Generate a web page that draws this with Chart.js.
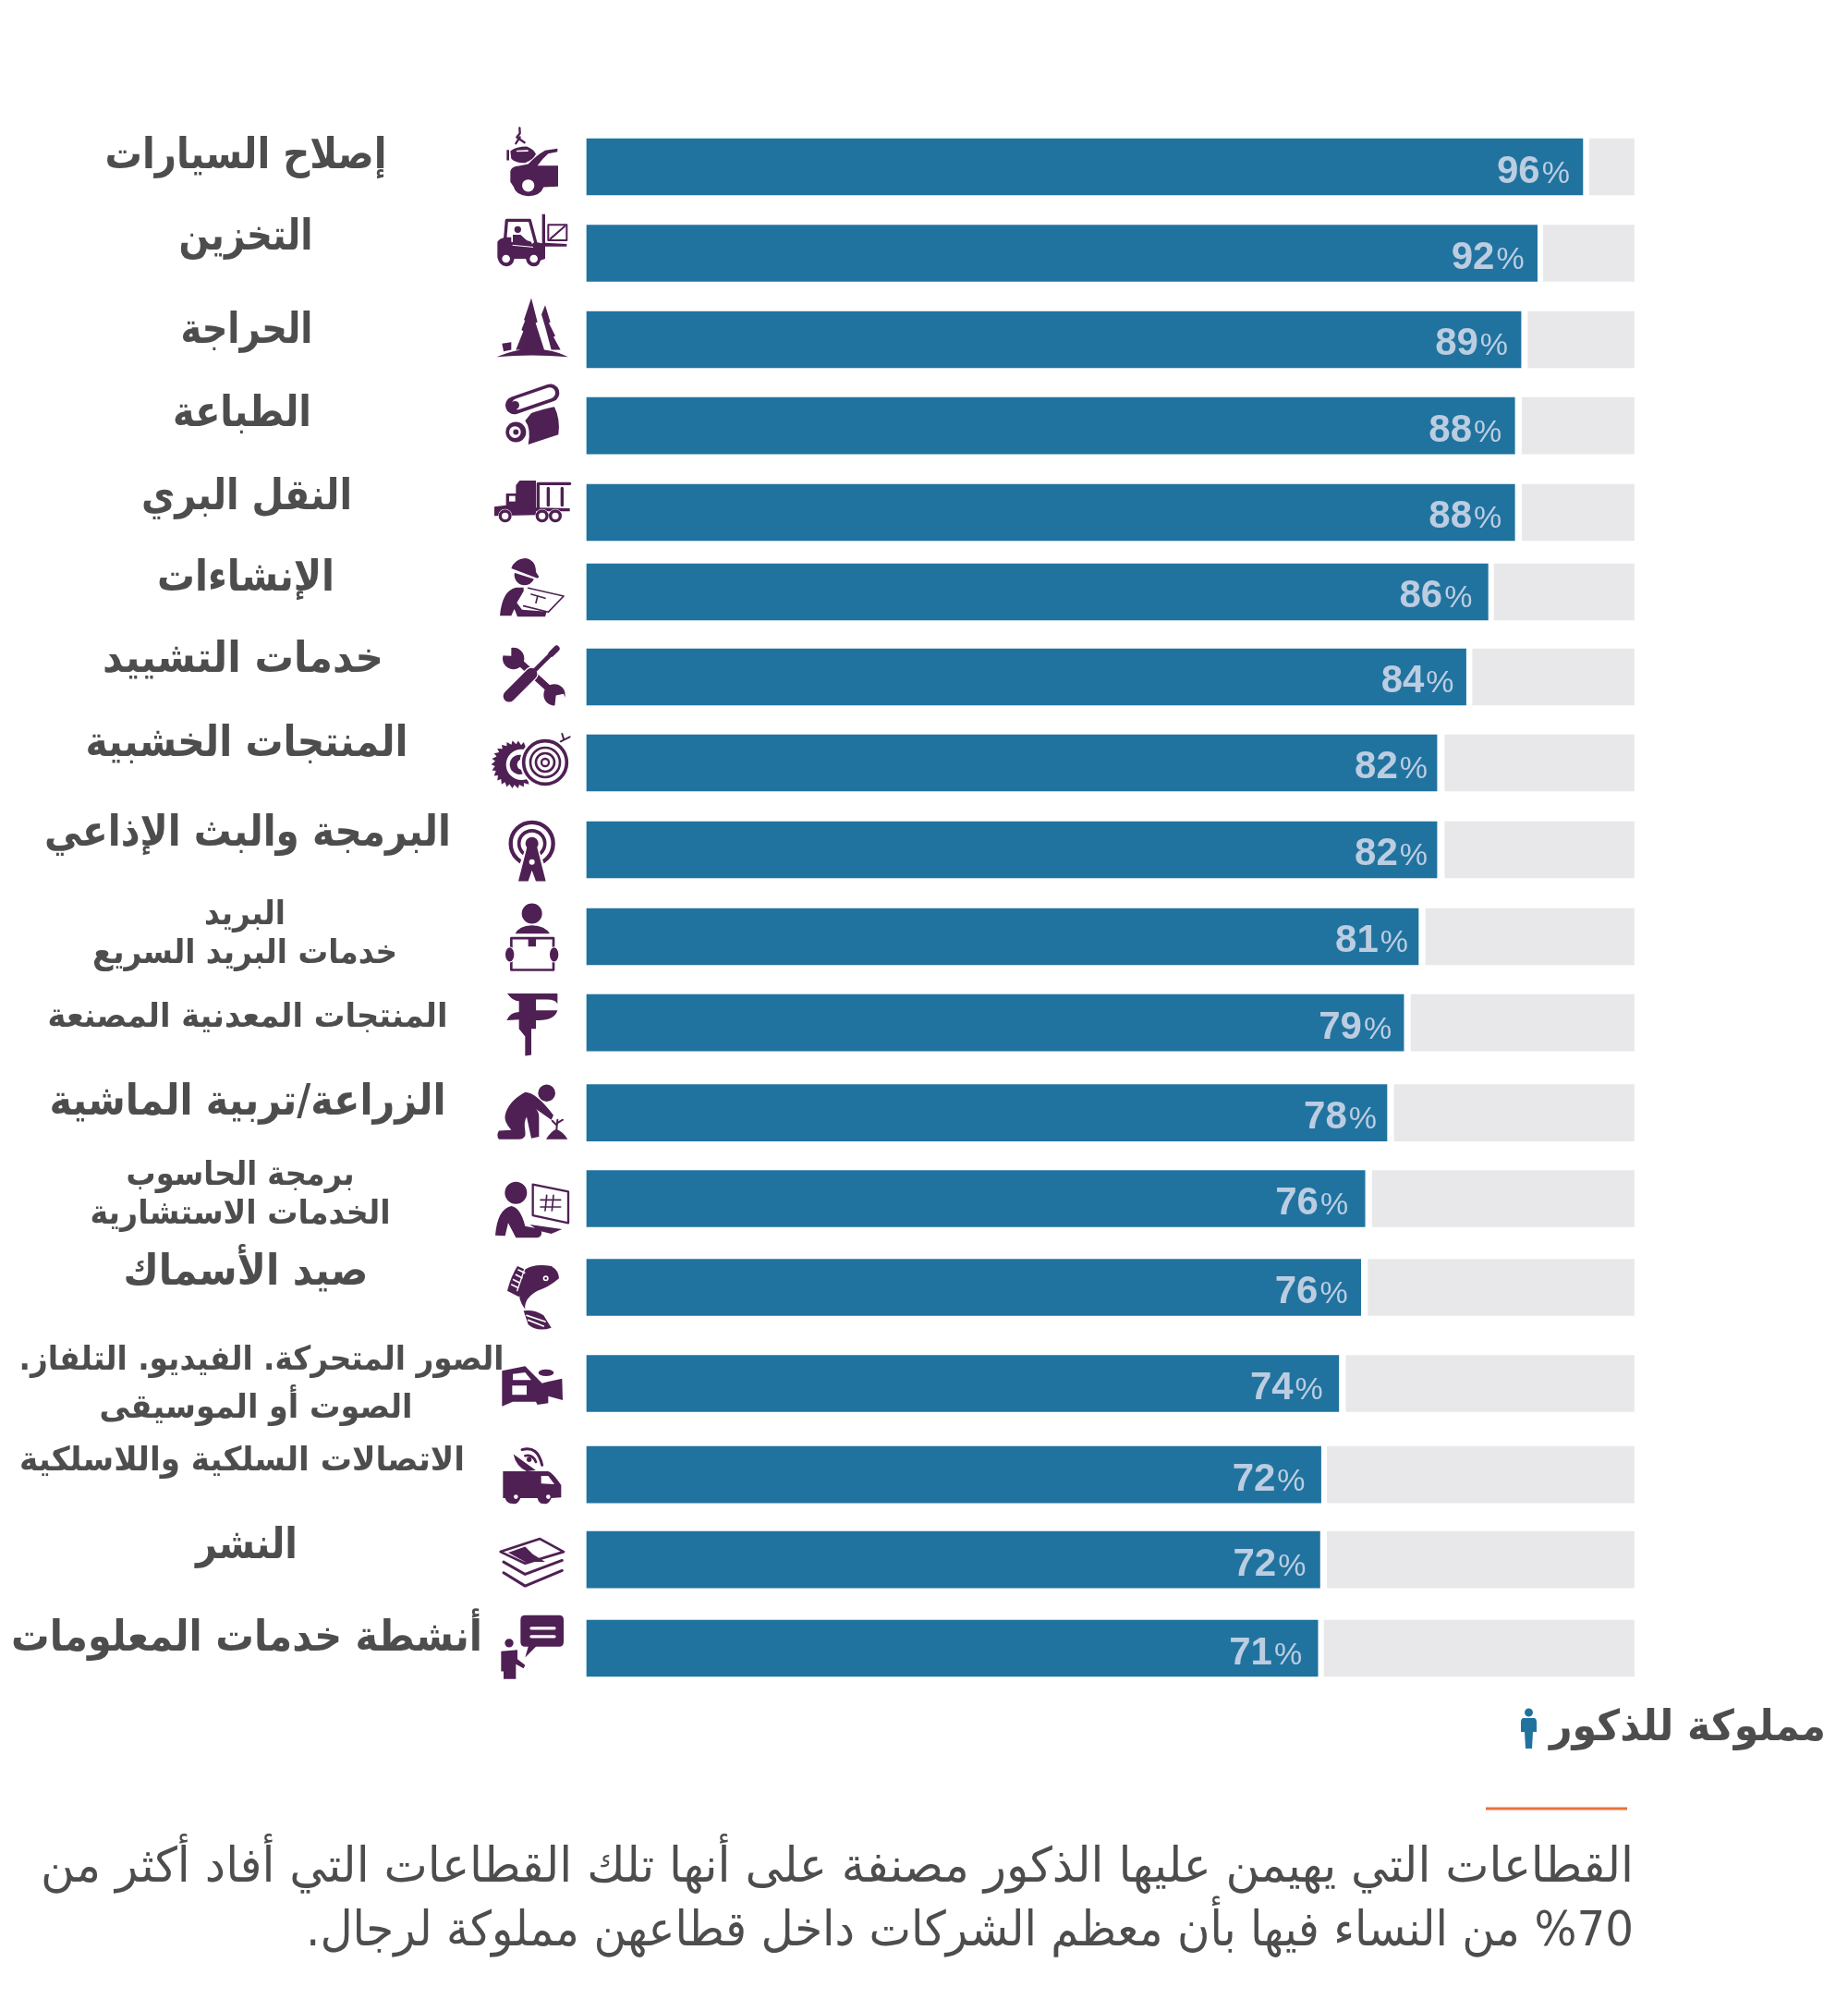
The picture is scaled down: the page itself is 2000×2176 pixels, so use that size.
<!DOCTYPE html>
<html lang="ar"><head><meta charset="utf-8">
<style>html,body{margin:0;padding:0;background:#fff}canvas{display:block}</style>
<script src="https://cdn.jsdelivr.net/npm/chart.js@4/dist/chart.umd.min.js"></script>
</head><body><canvas id="c" width="2000" height="2176"></canvas>
<script>
// Sector names (line breaks as in the picture)
const categories = [
 ["إصلاح السيارات"],["التخزين"],["الحراجة"],["الطباعة"],["النقل البري"],["الإنشاءات"],["خدمات التشييد"],
 ["المنتجات الخشبية"],["البرمجة والبث الإذاعي"],["البريد","خدمات البريد السريع"],["المنتجات المعدنية المصنعة"],
 ["الزراعة/تربية الماشية"],["برمجة الحاسوب","الخدمات الاستشارية"],["صيد الأسماك"],
 ["الصور المتحركة. الفيديو. التلفاز.","الصوت أو الموسيقى"],["الاتصالات السلكية واللاسلكية"],["النشر"],["أنشطة خدمات المعلومات"]];
// Printed percentages
const printedShare = [96,92,89,88,88,86,84,82,82,81,79,78,76,76,74,72,72,71];
// Drawn bar lengths on a 0-100 axis (the original art is not exactly to scale)
const maleBar  = [95.1,90.75,89.2,88.6,88.6,86.05,83.95,81.17,81.17,79.4,78.0,76.4,74.3,73.9,71.8,70.1,70.0,69.8];
const greyBar  = [4.26,8.66,10.13,10.7,10.7,13.36,15.42,18.06,18.06,19.9,21.3,22.9,25.0,25.4,27.5,29.3,29.3,29.6];
// Row positions on the numeric y axis: the original rows are unevenly spaced
const rowPos   = [0,.992,1.983,2.97,3.966,4.878,5.854,6.84,7.837,8.834,9.821,10.855,11.841,12.859,13.962,15.007,15.983,17];
const legendLabel = "مملوكة للذكور";
const noteLines = ["القطاعات التي يهيمن عليها الذكور مصنفة على أنها تلك القطاعات التي أفاد أكثر من","%70 من النساء فيها بأن معظم الشركات داخل قطاعهن مملوكة لرجال."];

// Layout of the label column: [font px, centre x, centre y offset from the bar centre, width] per line
const labelLayout = [
 [[46,266,-10,305]],[[46,266,-16,145]],[[46,267,-8,143]],[[46,262,-12,150]],[[46,267,-15,228]],[[46,266,-13,192]],[[46,263,-17,304]],
 [[46,267,-19,349]],[[46,268,-16,440]],[[36,265,-23,88],[36,265,19,330]],[[36,268,-5,433]],
 [[46,268,-10,429]],[[36,260,-24,247],[36,260,18,325]],[[46,266,-15,265]],[[36,283,-24,525],[36,277,28,339]],[[36,262,-14,482]],[[46,267,-14,110]],[[46,267,-9,510]]];
// Gap between the end of a bar and its printed percentage, per row
const pctGap = [14,14,14,14,14,17,13,10,10,11,13,11,18,14,17,17,15,17];

const DARK="#4f2053", TEXT="#4d4d4d", BLUE="#21739f", GREY="#e8e8ea", PCT="#bccde1";
const c=(x,y,r)=>`M${x-r} ${y}a${r} ${r} 0 1 0 ${2*r} 0a${r} ${r} 0 1 0 ${-2*r} 0Z`;
const e=(x,y,a,b)=>`M${x-a} ${y}a${a} ${b} 0 1 0 ${2*a} 0a${a} ${b} 0 1 0 ${-2*a} 0Z`;
function gear(x,y,r1,r2,n){let s="";for(let i=0;i<n;i++){const a=i/n*6.283,b=(i+.7)/n*6.283;s+=(i?"L":"M")+(x+r1*Math.cos(a))+" "+(y+r1*Math.sin(a))+"L"+(x+r2*Math.cos(b))+" "+(y+r2*Math.sin(b));}return s+"Z";}
// Icon art: [zero y of art relative to bar centre, ops]; d fill dark, w fill white, D stroke dark, W stroke white
const icons=[
 [151,[["d","M82 165Q85 150 110 148L140 142Q165 115 195 98L235 92L235 102L205 108Q185 125 170 147L237 147L237 215L190 217Q180 245 140 246Q100 245 92 215L82 200Z"],["w",c(140,212,20)],
   ["d","M70 96L78 96L78 130L70 130Z M82 100Q100 85 135 85Q160 95 165 110Q155 130 130 138Q100 140 85 125Z"],["W","M104 100L138 99",5],["D","M112 25L113 42L103 55L128 72M113 55L100 75",7]]],
 [432,[["d","M40 395Q45 385 65 380L85 380L85 395L150 405L160 395L185 400L185 305L195 305L195 398L265 402L265 410L195 410L195 450L180 455Q175 475 158 475Q138 475 132 450L95 450Q90 475 68 475Q45 473 40 445Z"],
   ["D","M65 385L70 325L145 325L165 400",10],["D","M205 340L265 340L265 390L205 390ZM212 385L258 345",6],["d",c(106,355,11)+"M90 372L115 372L135 390L150 395L155 410L130 405L90 405Z"],["W","M90 406L155 412",3],["w",c(68,450,13)+c(158,450,13)]]],
 [712,[["d","M150 577L170 655L164 658L192 745L100 745L124 685L118 680L130 650L126 648Z M195 600L212 655L207 658L228 700L222 703L245 745L215 745L195 670L183 630Z M37 768Q100 742 150 742Q220 742 270 768Q150 758 37 768Z M55 725L85 720L85 745L60 750Z"],["W","M178 650L208 740",5]]],
 [991,[["D","M95 925L212 885",58],["W","M105 921L210 885",36],["d",c(97,925,14)],["d","M150 950Q215 930 225 930Q245 970 238 1020L140 1052Q150 1000 130 975Z"],["d",c(100,1012,33)],["w",c(97,1012,19)],["d",c(100,1012,9)]]],
 [103.5,[["d","M30 85L68 80L68 42L100 42L100 15L112 0L165 0L165 88L275 90L275 100L165 100L165 112L30 115Z"],["D","M172 10L275 10M172 10L172 90M205 25L205 80M250 25L250 80",10],["w","M78 50L98 50L98 68L78 68Z"],["w",c(65,115,23)+c(185,115,23)+c(228,115,23)],["d",c(65,115,21)+c(185,115,21)+c(228,115,21)],["w",c(65,115,11)+c(185,115,11)+c(228,115,11)]]],
 [364.5,[["d",c(128,310,33)],["W","M88 290L172 318",10],["d","M85 288Q95 258 130 255Q165 260 165 300L175 315L170 320Z"],["w","M90 295L165 320L170 326L88 300Z"],["d","M48 442Q55 360 100 350L125 350L125 362L103 400L120 422L200 428L195 445L105 445L95 420L85 442Z"],["D","M140 352L255 378L205 430L125 410",5],["D","M150 372L195 385M170 380L165 400",5]]],
 [640,[["D","M110 590L220 690",22],["d",c(92,580,35)+c(225,698,35)],["w","M85 530L65 530L50 570L85 572Z M255 695L275 745L225 745L230 700Z"],["W","M75 705L150 630",46],["W","M150 630L225 555",22],["D","M78 702L150 630",38],["D","M150 630L225 555",14],["D","M215 565L232 548",20]]],
 [919.5,[["d",gear(98,925,78,66,26)],["w",c(118,925,50)],["d",c(112,925,32)],["w",c(122,925,18)],["w",c(195,918,82)],["D",c(195,918,70),11],["D",c(195,918,48),8],["D",c(195,918,30),8],["D",c(195,918,12),7],["D","M245 850L275 835M255 842L250 825",6]]],
 [1198,[["D",c(152,1178,69),13],["D",c(152,1178,42),11],["W","M152 1180L196 1300M152 1180L108 1300",30],["d",c(152,1178,21)],["d","M140 1175L165 1175L197 1300L165 1300L152 1265L140 1300L108 1300Z"],["w",c(152,1238,9)]]],
 [190,[["d",c(152,115,33)+"M98 180Q110 155 152 153Q195 155 210 180Z"],["D","M85 195L222 195L222 298L85 298Z",8],["d","M140 195L165 195L165 222L140 222Z"],["w",e(80,248,18,26)+e(224,248,18,26)],["d",e(80,248,14,23)+e(224,248,14,23)]]],
 [470,[["d","M72 375L235 375L235 410Q230 395 200 395L165 395L165 430L235 430Q225 465 165 462L165 490L150 490L150 575L130 578L130 515L110 490L110 460L70 462Q80 437 110 435L110 400Q90 400 72 375Z"]]],
 [762,[["d",c(200,698,28)+"M65 770Q75 725 130 695Q165 695 222 770L215 785L165 750Q175 760 175 775L175 840L150 845L135 775Q125 790 130 820Q135 848 110 848L45 848Q35 835 45 820L85 818Q60 790 65 770Z M198 848Q215 820 232 815Q255 825 268 848Z"],["D","M232 815L235 785M233 803L218 788M235 795L252 785",6]]],
 [1041,[["d",c(100,1022,36)+"M33 1160Q40 1075 85 1065Q115 1070 130 1130L180 1140Q190 1165 170 1168L100 1168L75 1120L65 1162Z M145 1125L250 1140L215 1155L175 1145Z"],["D","M155 995L270 1018L270 1120L155 1095Z",7],["D","M180 1045L245 1045M180 1068L245 1068M200 1030L195 1080M222 1030L217 1080",5]]],
 [39,[["d","M128 -18Q160 -40 215 -30Q240 -15 240 10Q205 40 170 50Q125 75 130 110Q105 80 112 40Z"],["d","M105 -30L150 -10Q120 15 110 70L72 50Q85 0 105 -30Z M125 115Q160 110 190 130L215 170Q170 185 140 160Z"],["W","M128 -20L104 50",4],["W","M108 -18L128 -8M100 -2L120 8M92 14L112 24M86 30L106 40M135 130L195 150M140 145L190 165",5],["w",c(197,10,9)],["d",c(197,10,4)]]],
 [351,[["d","M55 310L130 295L165 330L185 350L205 345L250 335L252 405L205 392L205 415L170 420L165 410L90 410L55 425Z"+e(198,316,25,11)],["w","M88 358L135 358L135 388L88 388Z M90 320L130 315L150 340L90 340Z"]]],
 [646,[["d","M58 635L205 635Q220 640 247 680L247 720L215 722Q205 745 190 740Q175 742 170 722L115 722Q105 745 90 740Q70 740 65 722L58 722Z M92 580Q100 620 135 635L165 632Z"+c(143,597,8)],["w","M182 650L205 650L225 677L182 675Z"+c(100,718,7)+c(205,718,7)],["D","M120 565Q170 550 185 615",9],["D","M130 585Q155 580 165 605",8]]],
 [922.5,[["D","M50 897L178 855L255 897L130 935Z",8],["d","M75 900L130 880L155 905L195 930L130 930Z"],["D","M60 930L130 970L250 925",9],["D","M60 965L130 1008L250 958",9]]],
 [1210,[["d","M130 1103L240 1103Q255 1103 255 1118L255 1190Q255 1205 240 1205L165 1205L130 1240L140 1205L130 1205Q115 1205 115 1190L115 1118Q115 1103 130 1103Z"+c(78,1193,14)+"M52 1220L105 1215L105 1245L130 1265L125 1275L100 1262L100 1310L60 1310L60 1285L52 1285Z"],["W","M150 1145L225 1145M150 1172L225 1172",10]]]
];
function drawIcon(ctx,[zero,ops],x,y){
  ctx.save();ctx.translate(x,y);ctx.scale(1/3,1/3);ctx.translate(0,-zero);ctx.lineCap="round";ctx.lineJoin="round";
  for(const [k,p,sw] of ops){const P=new Path2D(p),col=(k==="d"||k==="D")?DARK:"#fff";
    if(k==="d"||k==="w"){ctx.fillStyle=col;ctx.fill(P);}else{ctx.strokeStyle=col;ctx.lineWidth=sw;ctx.stroke(P);}}
  ctx.restore();
}
// real text stretched or squeezed horizontally to the width it has in the picture
function fitText(ctx,t,cx,y,w){const n=ctx.measureText(t).width;ctx.save();ctx.translate(cx,y);ctx.scale(w/n,1);ctx.textAlign="center";ctx.fillText(t,0,0);ctx.restore();}
const art={id:"art",afterDatasetsDraw(ch){
  const ctx=ch.ctx,Y=ch.scales.y,meta=ch.getDatasetMeta(1);
  ctx.save();ctx.direction="rtl";ctx.textBaseline="middle";ctx.fillStyle=TEXT;
  categories.forEach((ls,i)=>{const yc=Y.getPixelForValue(rowPos[i]);
    ls.forEach((t,j)=>{const [f,x,dy,w]=labelLayout[i][j];
      ctx.font=`bold ${f}px "DejaVu Sans"`;fitText(ctx,t,x,yc+dy,w);});});
  ctx.restore();
  rowPos.forEach((v,i)=>drawIcon(ctx,icons[i],ch.scales.x.left-110,Y.getPixelForValue(v)));
  ctx.save();ctx.direction="ltr";ctx.textBaseline="alphabetic";ctx.textAlign="right";ctx.fillStyle=PCT;
  meta.data.forEach((b,i)=>{const y=b.y+17,r=b.x-pctGap[i];
    ctx.font='34px "Liberation Sans"';ctx.fillText("%",r,y);const pw=ctx.measureText("%").width;
    ctx.font='bold 42px "Liberation Sans"';ctx.fillText(String(printedShare[i]),r-pw-2,y);});
  ctx.restore();
  ctx.save();ctx.direction="rtl";ctx.textBaseline="alphabetic";ctx.fillStyle=TEXT;
  ctx.font='bold 46px "DejaVu Sans"';fitText(ctx,legendLabel,1826.5,1883,299);
  ctx.fillStyle=BLUE;ctx.fill(new Path2D(c(1654.5,1853,4.5)+"M1648 1859L1661 1859Q1663 1860 1663 1863L1663 1874L1659 1874L1658 1892L1651 1892L1650 1874L1646 1874L1646 1863Q1646 1860 1648 1859Z"));
  ctx.fillStyle="#e8703a";ctx.fillRect(1608,1955.5,153,3);
  ctx.fillStyle=TEXT;ctx.font='52px "DejaVu Sans"';
  fitText(ctx,noteLines[0],906,2036,1724);fitText(ctx,noteLines[1],1049.5,2105,1437);
  ctx.restore();
}};
new Chart(document.getElementById("c"),{type:"bar",plugins:[art],
 data:{datasets:[
  {data:greyBar.map((g,i)=>({x:[100-g,100],y:rowPos[i]})),backgroundColor:GREY,order:2},
  {data:maleBar.map((m,i)=>({x:m,y:rowPos[i]})),backgroundColor:BLUE,order:1}]},
 options:{indexAxis:"y",responsive:false,animation:false,devicePixelRatio:1,
  layout:{padding:{left:635,right:231.5,top:180.5,bottom:392.5}},
  datasets:{bar:{grouped:false,barThickness:61,borderWidth:0,clip:false}},
  plugins:{legend:{display:false},tooltip:{enabled:false}},
  scales:{x:{type:"linear",min:0,max:100,display:false},y:{type:"linear",min:0,max:17,reverse:true,display:false,offset:false}}}});
</script></body></html>
